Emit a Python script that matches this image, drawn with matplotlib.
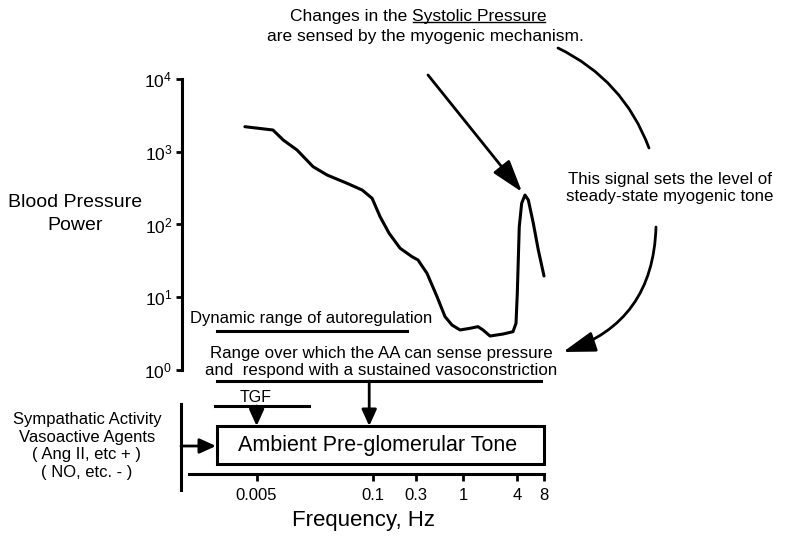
import matplotlib
matplotlib.use("Agg")
import matplotlib.pyplot as plt
import matplotlib.transforms as mtransforms
from matplotlib.patches import FancyArrowPatch, Rectangle
from matplotlib.lines import Line2D

plt.rcParams['font.family'] = ['Liberation Sans', 'DejaVu Sans']

# blood pressure power spectrum (Hz, power)
freq = [0.0037, 0.0076, 0.0099, 0.0141, 0.0213, 0.0305, 0.051, 0.075, 0.097, 0.119,
        0.150, 0.199, 0.270, 0.315, 0.397, 0.513, 0.630, 0.754, 0.926, 1.20,
        1.47, 1.67, 2.00, 2.79, 3.61, 3.90, 4.03, 4.24, 4.51, 4.91,
        5.35, 6.08, 6.91, 8.0]
power = [2210, 1990, 1450, 1057, 623, 479, 368, 298, 229, 128,
         75.7, 47.1, 36.1, 32.5, 21.3, 10.2, 5.41, 4.15, 3.55, 3.74,
         3.94, 3.55, 2.93, 3.12, 3.36, 4.38, 11.3, 93.3, 196, 254,
         217, 104, 44.6, 19.6]

xticks = [0.005, 0.1, 0.3, 1, 4, 8]
xticklabels = ['0.005', '0.1', '0.3', '1', '4', '8']
yticks = [1, 10, 100, 1000, 10000]

# frequency ranges (Hz)
autoreg_range = (0.0018, 0.24)
aa_range = (0.0018, 7.5)
tgf_range = (0.0017, 0.019)
box_range = (0.0018, 8)
tgf_freq = 0.005
myo_freq = 0.09

W, H = 790, 546


def P(x, y):
    # pixel position -> figure fraction
    return (x / W, 1 - y / H)


def AY(y):
    # pixel row -> axes fraction (axes spans rows 79..474)
    return (474 - y) / 395.0


def FX(x):
    # pixel column -> frequency
    return 10 ** ((x - 463) / 89.7)


fig = plt.figure(figsize=(W / 100, H / 100), dpi=100)
ax = fig.add_axes([182 / W, (H - 474) / H, 362 / W, 395 / H])
ax.set_xscale('log')
ax.set_yscale('log')
ax.set_xlim(10 ** -3.133, 8)
ax.set_ylim(10 ** -1.43, 1e4)

ax.plot(freq, power, color='black', lw=2.2, clip_on=False,
        solid_joinstyle='round', solid_capstyle='round')

for s in ['top', 'right']:
    ax.spines[s].set_visible(False)
ax.spines['left'].set_bounds(1, 1e4)
ax.spines['left'].set_linewidth(2.2)
ax.spines['bottom'].set_bounds(0.00088, 8)
ax.spines['bottom'].set_linewidth(2.2)

ax.set_yticks(yticks)
ax.set_xticks(xticks)
ax.set_xticklabels(xticklabels)
ax.minorticks_off()
ax.tick_params(axis='y', direction='out', length=4, width=2, labelsize=12.5, pad=3)
ax.tick_params(axis='x', direction='out', length=5, width=2, labelsize=12, pad=5)
ax.set_xlabel('Frequency, Hz', fontsize=16, labelpad=5)
ax.patch.set_alpha(0)

blend = mtransforms.blended_transform_factory(ax.transData, ax.transAxes)

# range bars
ax.plot(autoreg_range, [AY(331)] * 2, color='black', lw=2.2, transform=blend, clip_on=False)
ax.plot(aa_range, [AY(381)] * 2, color='black', lw=2.2, transform=blend, clip_on=False)
ax.plot(tgf_range, [AY(406)] * 2, color='black', lw=2.2, transform=blend, clip_on=False)

# ambient tone box
box = Rectangle((box_range[0], AY(464)), box_range[1] - box_range[0], AY(426) - AY(464),
                transform=blend, fill=False, lw=2.2, ec='black', clip_on=False)
ax.add_patch(box)
ax.text(FX(378), AY(446), 'Ambient Pre-glomerular Tone', transform=blend,
        ha='center', va='center', fontsize=15.5)

small_head = '-|>,head_length=0.55,head_width=0.25'
for f, y0 in [(tgf_freq, 406), (myo_freq, 381)]:
    a = FancyArrowPatch((f, AY(y0)), (f, AY(426)), transform=blend, arrowstyle=small_head,
                        mutation_scale=18, lw=2, color='black', shrinkA=0, shrinkB=0)
    ax.add_patch(a)
    a.set_clip_on(False)

ax.text(FX(256), AY(398), 'TGF', transform=blend, ha='center', va='center', fontsize=11.5)
ax.text(FX(311), AY(318), 'Dynamic range of autoregulation', transform=blend,
        ha='center', va='center', fontsize=12)
ax.text(FX(381), AY(362),
        'Range over which the AA can sense pressure\nand  respond with a sustained vasoconstriction',
        transform=blend, ha='center', va='center', fontsize=12.2, linespacing=1.15)

# figure-level annotations
fig.text(*P(75, 214), 'Blood Pressure\nPower', ha='center', va='center', fontsize=14, linespacing=1.4)
fig.text(*P(87, 446), 'Sympathatic Activity\nVasoactive Agents\n( Ang II, etc + )\n( NO, etc. - )',
         ha='center', va='center', fontsize=12, linespacing=1.22)

t1 = fig.text(*P(412, 17), 'Changes in the ', ha='right', va='center', fontsize=12.5)
t2 = fig.text(*P(412, 17), 'Systolic Pressure', ha='left', va='center', fontsize=12.5)
fig.text(*P(425, 36), 'are sensed by the myogenic mechanism.', ha='center', va='center', fontsize=12.5)
fig.text(*P(670, 188), 'This signal sets the level of\nsteady-state myogenic tone',
         ha='center', va='center', fontsize=12.2, linespacing=1.15)

fig.canvas.draw()
bb = t2.get_window_extent().transformed(fig.transFigure.inverted())
fig.add_artist(Line2D([bb.x0 + 0.001, bb.x1 - 0.002], [bb.y0 + 0.004, bb.y0 + 0.004], color='black', lw=1,
                      transform=fig.transFigure))

# left input bar and arrow
fig.add_artist(Line2D([P(181, 404)[0]] * 2, [P(181, 404)[1], P(181, 490)[1]], color='black', lw=2.2,
                      transform=fig.transFigure))
fig.add_artist(FancyArrowPatch(P(181, 446), P(216, 446), transform=fig.transFigure, arrowstyle=small_head,
                               mutation_scale=18, lw=2, color='black', shrinkA=0, shrinkB=0))

# systolic pressure arrow
fig.add_artist(FancyArrowPatch(P(428, 75), P(522, 192), transform=fig.transFigure,
                               arrowstyle='-|>,head_length=1.1,head_width=0.35', mutation_scale=18,
                               lw=2, color='black', shrinkA=0, shrinkB=0))

# curved feedback arrows
fig.add_artist(FancyArrowPatch(P(558, 48), P(649, 148), transform=fig.transFigure,
                               arrowstyle='-', connectionstyle='arc3,rad=-0.2',
                               lw=2, color='black', shrinkA=0, shrinkB=0))
fig.add_artist(FancyArrowPatch(P(656, 227), P(563, 352), transform=fig.transFigure,
                               arrowstyle='-|>,head_length=1.1,head_width=0.35',
                               connectionstyle='arc3,rad=-0.35', mutation_scale=18,
                               lw=2, color='black', shrinkA=0, shrinkB=0))

fig.savefig('out.png', dpi=100)
